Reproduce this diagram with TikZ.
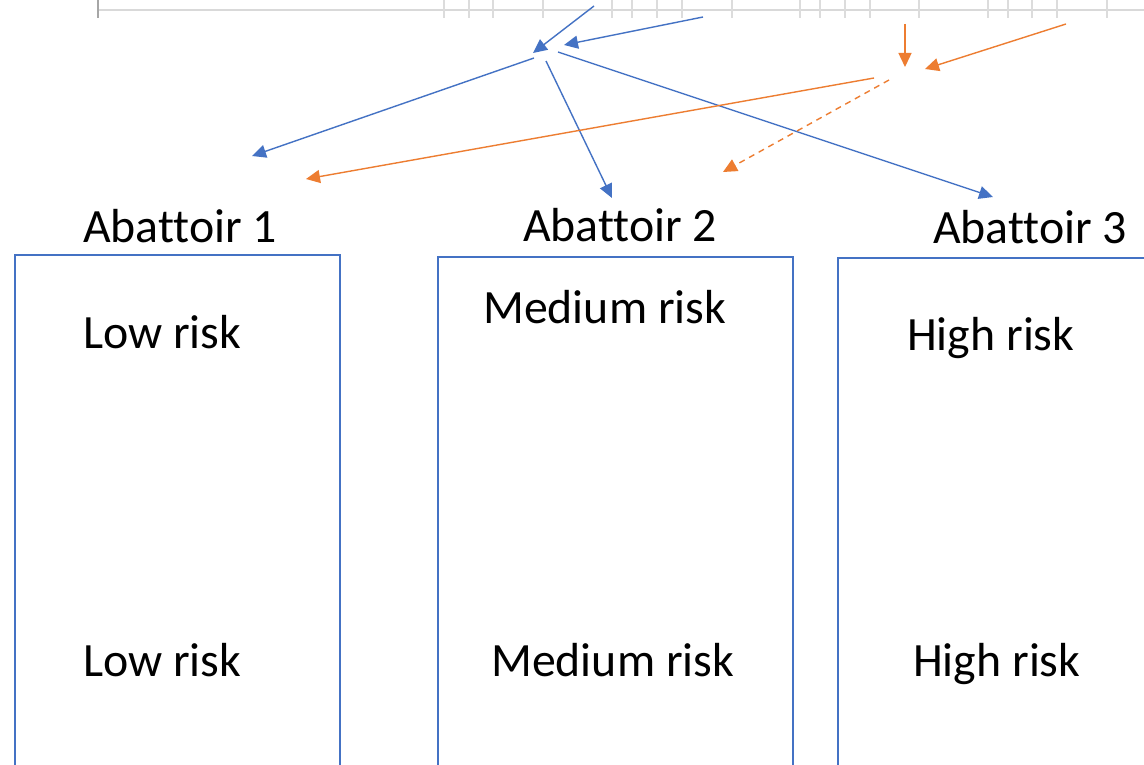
\documentclass[tikz,border=0pt]{standalone}
\usepackage{fontspec}
\setmainfont[Ligatures=NoCommon]{Carlito}
\usetikzlibrary{arrows.meta}
\definecolor{obl}{HTML}{4472C4}
\definecolor{oor}{HTML}{ED7D31}
\definecolor{rul}{HTML}{D9D9D9}
\definecolor{rultick}{HTML}{DCDCDC}
\tikzset{
  lbl/.style={anchor=base west, inner sep=0pt, font=\fontsize{47.8}{52}\selectfont},
  abox/.style={draw=obl, line width=2.2pt, anchor=north west, inner sep=0pt},
  barr/.style={draw=obl, line width=1.4pt, -{Triangle[length=14pt,width=13pt]}},
  oarr/.style={draw=oor, line width=1.4pt, -{Triangle[length=14pt,width=13pt]}},
  tick/.style={draw=rultick, line width=1.5pt},
}
\begin{document}
\begin{tikzpicture}[x=1pt,y=-1pt]
\useasboundingbox (0,0) rectangle (1144,765);
\clip (0,0) rectangle (1144,765);
\fill[white] (0,0) rectangle (1144,765);
% ruler
\draw[rul, line width=2pt] (97,10) -- (1144,10);
\draw[draw=gray!70, line width=1.5pt] (98,0) -- (98,18);
\foreach \x in {444,469,493,543,612,632,657,682,732,800,820,845,870,919,988,1008,1032,1057,1107}
  \draw[tick] (\x,0) -- (\x,18);
% boxes
\node[abox, minimum width=325pt, minimum height=560pt] (box1) at (14,254) {};
\node[abox, minimum width=355pt, minimum height=560pt] (box2) at (437,256) {};
\node[abox, minimum width=360pt, minimum height=560pt] (box3) at (837,257) {};
% titles
\node[lbl] (t1) at (83,242) {Abattoir 1};
\node[lbl] (t2) at (523,241) {Abattoir 2};
\node[lbl] (t3) at (933,243) {Abattoir 3};
\node[lbl] (r1a) at (83,348) {Low risk};
\node[lbl] (r2a) at (483,323) {Medium risk};
\node[lbl] (r3a) at (907,350) {High risk};
\node[lbl] (r1b) at (83,676) {Low risk};
\node[lbl] (r2b) at (491,676) {Medium risk};
\node[lbl] (r3b) at (913,676) {High risk};
% blue arrows
\coordinate (bs1) at (594,6);
\coordinate (be1) at (533,53);
\coordinate (bs2) at (703,17);
\coordinate (be2) at (564,45);
\coordinate (bo1) at (534,58);
\coordinate (bt1) at (252,156);
\coordinate (bo2) at (546,61);
\coordinate (bt2) at (612,198);
\coordinate (bo3) at (558,52);
\coordinate (bt3) at (993,197);
\draw[barr] (bs1) -- (be1);
\draw[barr] (bs2) -- (be2);
\draw[barr] (bo1) -- (bt1);
\draw[barr] (bo2) -- (bt2);
\draw[barr] (bo3) -- (bt3);
% orange arrows
\coordinate (os1) at (905,24);
\coordinate (oe1) at (905,67);
\coordinate (os2) at (1066,24);
\coordinate (oe2) at (925,69);
\coordinate (oo1) at (874,78);
\coordinate (ot1) at (306,179);
\coordinate (oo2) at (889,80);
\coordinate (ot2) at (723,172);
\draw[oarr] (os1) -- (oe1);
\draw[oarr] (os2) -- (oe2);
\draw[oarr] (oo1) -- (ot1);
\draw[oarr, dash pattern=on 6pt off 5pt] (oo2) -- (ot2);
\end{tikzpicture}
\end{document}
